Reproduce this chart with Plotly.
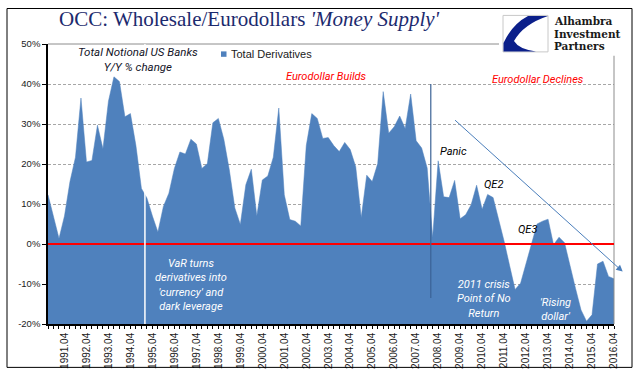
import plotly.graph_objects as go

# ---------------- data ----------------
years = list(range(1991, 2017))
quarters = [f"{y}.{q:02d}" for y in years for q in range(1, 5)]

# Total notional derivatives, US banks, Y/Y % change
values = [
    12.3, 6.8, 1.4, 7.0, 15.6, 21.7, 36.5, 20.5, 20.9, 29.7,
    23.8, 35.7, 41.8, 40.6, 31.8, 32.6, 24.6, 13.9, 11.5, 7.0,
    3.0, 9.4, 12.7, 18.9, 23.0, 22.5, 26.2, 25.0, 18.9, 20.1,
    30.3, 31.4, 26.2, 18.5, 9.0, 4.9, 14.8, 18.7, 7.0, 16.0,
    17.0, 21.7, 34.0, 12.3, 6.1, 5.7, 4.5, 24.6, 32.6, 31.4,
    26.4, 26.6, 24.6, 23.1, 25.4, 23.6, 19.3, 6.6, 17.2, 15.6,
    20.1, 38.1, 27.7, 29.3, 32.0, 28.9, 37.5, 25.8, 24.0, 19.0,
    1.6, 20.8, 11.8, 11.6, 15.9, 6.3, 7.3, 9.8, 14.7, 8.7,
    12.4, 11.6, 6.5, 0.7, -5.4, -11.4, -9.8, -5.0, 0.3, 5.0,
    5.7, 6.2, -0.2, 1.7, 0.3, -5.8, -11.1, -16.5, -19.3, -17.7,
    -5.0, -4.3, -8.1, -8.7,
]
series_name = "Total Derivatives"
y_ticks = [-20, -10, 0, 10, 20, 30, 40, 50]
Y_MIN, Y_MAX = -20, 50
floor = [Y_MIN] * len(quarters)  # area is filled down to the axis floor
x_labels = [q if q.endswith(".04") else "" for q in quarters]

# ---------------- geometry helpers (layout decoration only) ----------------
W, H = 641, 381
PL, PR, PT, PB = 48, 614, 44, 328


def px(x):
    return (x - PL) / (PR - PL)


def py(y):
    return (PB - y) / (PB - PT)


def ppath(cmds):
    out = []
    for c in cmds:
        if isinstance(c, str):
            out.append(c)
        else:
            out.append(f"{px(c[0]):.5f},{py(c[1]):.5f}")
    return " ".join(out)


BLUE = "#4F81BD"

fig = go.Figure()
fig.add_trace(go.Scatter(x=quarters, y=floor, mode="lines", line=dict(width=0),
                         hoverinfo="skip", showlegend=False))
fig.add_trace(go.Scatter(x=quarters, y=values, mode="lines", fill="tonexty",
                         fillcolor=BLUE, line=dict(color=BLUE, width=0.5),
                         name=series_name, showlegend=False))

shapes = []
# outer chart border
shapes.append(dict(type="rect", xref="paper", yref="paper", x0=px(7), x1=px(632),
                   y0=py(372), y1=py(8), line=dict(color="black", width=1), layer="above"))
# plot frame: top & right (gray)
shapes.append(dict(type="line", xref="paper", yref="paper", x0=0, x1=1, y0=1, y1=1,
                   line=dict(color="#8c8c8c", width=1), layer="above"))
shapes.append(dict(type="line", xref="paper", yref="paper", x0=1, x1=1, y0=0, y1=1,
                   line=dict(color="#8c8c8c", width=1), layer="above"))
# zero line
shapes.append(dict(type="line", xref="paper", yref="y", x0=0, x1=1, y0=0, y1=0,
                   line=dict(color="#FF0000", width=2), layer="above"))
# white vertical marker (VaR)
shapes.append(dict(type="line", xref="x", yref="y", x0=17.64, x1=17.64, y0=Y_MIN, y1=Y_MAX,
                   line=dict(color="white", width=1.5), layer="above"))
# 2008 vertical marker
shapes.append(dict(type="line", xref="x", yref="y", x0=69.66, x1=69.66, y0=-13.5, y1=40,
                   line=dict(color="#3a6296", width=1.2), layer="above"))
# logo background
shapes.append(dict(type="rect", xref="paper", yref="paper", x0=px(499), x1=px(631),
                   y0=py(56), y1=py(9), fillcolor="white", line=dict(width=0), layer="above"))
# logo icon
shapes.append(dict(type="rect", xref="paper", yref="paper", x0=px(503), x1=px(548),
                   y0=py(52), y1=py(15), fillcolor="white",
                   line=dict(color="#c8c8c8", width=1), layer="above"))
shapes.append(dict(type="path", xref="paper", yref="paper", layer="above",
                   path=ppath(["M", (528, 15.5), "L", (548, 15.5),
                               "Q", (523, 24), (514, 41),
                               "Q", (519, 49.5), (536, 51.5),
                               "L", (503.5, 51.5), "L", (503.5, 43),
                               "Q", (512, 24), (528, 15.5), "Z"]),
                   fillcolor="#0b1f8a", line=dict(width=0)))
# legend swatch
shapes.append(dict(type="rect", xref="paper", yref="paper", x0=px(221), x1=px(226.5),
                   y0=py(57), y1=py(51.5), fillcolor=BLUE, line=dict(width=0), layer="above"))

ann = []


def text(x, y, s, size=11, color="black", italic=True, family="Roboto", anchor="center",
         weight="normal", **kw):
    ann.append(dict(x=px(x), y=py(y), xref="paper", yref="paper", text=s, showarrow=False,
                    xanchor=anchor, yanchor="middle",
                    font=dict(size=size, color=color, family=family, weight=weight,
                              style="italic" if italic else "normal"), **kw))


# title
text(249, 19, "OCC: Wholesale/Eurodollars <i>'Money Supply'</i>", size=21,
     color="#1c2a6e", italic=False, family="Liberation Serif")
# logo text
for yy, s in [(21, "Alhambra"), (33.5, "Investment"), (46, "Partners")]:
    text(552.5, yy, s, size=10.5, color="#1a1a1a", italic=False, family="DejaVu Serif",
         anchor="left", weight="bold", borderpad=0)
# legend label
text(229, 54.5, series_name, size=11, color="#1a1a1a", italic=False,
     family="Liberation Sans", anchor="left")
text(138, 59.5, "Total Notional US Banks<br>Y/Y % change", size=11.5, color="#141428")
text(326, 77, "Eurodollar Builds", size=11, color="#FF0000")
text(537.5, 79.5, "Eurodollar Declines", size=11, color="#FF0000")
text(453, 153, "Panic", size=11)
text(493, 187, "QE2", size=11)
text(527.5, 232, "QE3", size=11)
text(191, 288.5, "VaR turns<br>derivatives into<br>'currency' and<br>dark leverage",
     size=11, color="white")
text(484, 303, "2011 crisis<br>Point of No<br>Return", size=11, color="white")
text(555, 313.5, "'Rising<br>dollar'", size=11, color="white")

# trend arrow
ann.append(dict(x=104.58, y=-6.9, ax=73.8, ay=31.3, xref="x", yref="y", axref="x", ayref="y",
                text="", showarrow=True, arrowhead=2, arrowsize=1.3, arrowwidth=1,
                arrowcolor="#4a7ebb"))

fig.update_layout(
    width=W, height=H,
    margin=dict(l=PL, r=W - PR, t=PT, b=H - PB, pad=0),
    paper_bgcolor="white", plot_bgcolor="white",
    shapes=shapes, annotations=ann,
    xaxis=dict(type="category", range=[0, len(quarters) - 1], tickmode="array",
               tickvals=quarters, ticktext=x_labels, tickangle=-90,
               ticks="outside", ticklen=3, tickcolor="black", tickwidth=1,
               showline=True, linecolor="black", linewidth=1.5, showgrid=False,
               zeroline=False,
               tickfont=dict(family="Liberation Sans", size=10, color="#1a1a1a")),
    yaxis=dict(range=[Y_MIN, Y_MAX], tickmode="array", tickvals=y_ticks,
               ticktext=[f"{v}%" for v in y_ticks],
               showgrid=True, gridcolor="#a6a6a6", griddash="3px,2px", gridwidth=1,
               showline=True, linecolor="black", linewidth=1.5, zeroline=False,
               ticks="outside", ticklen=4, tickcolor="black",
               tickfont=dict(family="Liberation Sans", size=9.5, color="#1a1a1a")),
    showlegend=False,
)

fig.write_html("out.html", config={"displayModeBar": False},
               post_script="document.body.style.margin='0';")
